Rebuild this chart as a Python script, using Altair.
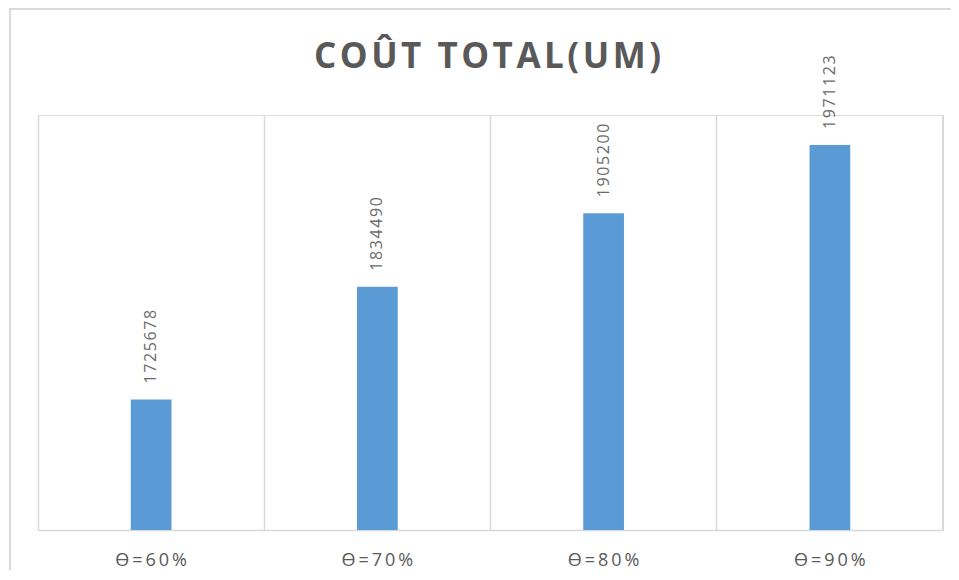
import altair as alt
import pandas as pd

categories = ["Ө=60%", "Ө=70%", "Ө=80%", "Ө=90%"]
values = [1725678, 1834490, 1905200, 1971123]
title_text = "COÛT TOTAL(UM)"

df = pd.DataFrame({"cat": categories, "val": values})

GRID = "#D9D9D9"
TXT = "#595959"
BAR = "#5B9BD5"
W, H = 905, 415

spaced_title = "\u200a".join(list(title_text))

xenc = alt.X(
    "cat:N", sort=categories, title=None,
    scale=alt.Scale(paddingInner=0, paddingOuter=0),
    axis=alt.Axis(
        labelAngle=0, ticks=False, grid=True, gridColor=GRID, gridWidth=1.5,
        bandPosition=0, domainColor=GRID, domainWidth=1.5,
        labelColor=TXT, labelFont="Open Sans", labelFontSize=18, labelPadding=21,
        labelExpr="join(split(datum.label, ''), '\u2009')",
    ),
)
yenc = alt.Y("val:Q", scale=alt.Scale(domain=[1600000, 2000000]), axis=None)

base = alt.Chart(df)

bars = base.mark_bar(color=BAR, width={"band": 0.18}, clip=True).encode(x=xenc, y=yenc)

labels = base.transform_calculate(
    lbl="join(split(toString(datum.val), ''), '\u200a')"
).mark_text(
    angle=270, align="left", baseline="middle", dx=16,
    font="Open Sans", fontSize=16, color="#6b6b6b",
).encode(x=alt.X("cat:N", sort=categories, bandPosition=0.5), y=yenc, text="lbl:N")

right_edge = base.mark_rule(color=GRID, strokeWidth=1.5).encode(
    x=alt.value(W), y=alt.value(0), y2=alt.value(H)
)

frame_left = base.mark_rule(color=GRID, strokeWidth=2).encode(
    x=alt.value(-28), y=alt.value(-106), y2=alt.value(460)
)
frame_top = base.mark_rule(color=GRID, strokeWidth=2).encode(
    x=alt.value(-29), x2=alt.value(913), y=alt.value(-106)
)

title = alt.Chart(pd.DataFrame({"t": [spaced_title]})).mark_text(
    font="Open Sans", fontSize=35, fontWeight="bold", color=TXT,
    align="center", baseline="alphabetic",
).encode(x=alt.value(W / 2 - 3), y=alt.value(-47), text="t:N")

chart = alt.layer(frame_left, frame_top, bars, labels, right_edge, title).properties(
    width=W, height=H,
    autosize=alt.AutoSizeParams(type="none"),
    padding={"left": 30, "top": 107, "right": 8, "bottom": 40},
).configure_view(stroke=None).configure(background="white")

chart.save("out.html", embed_options={"renderer": "svg", "actions": False})
